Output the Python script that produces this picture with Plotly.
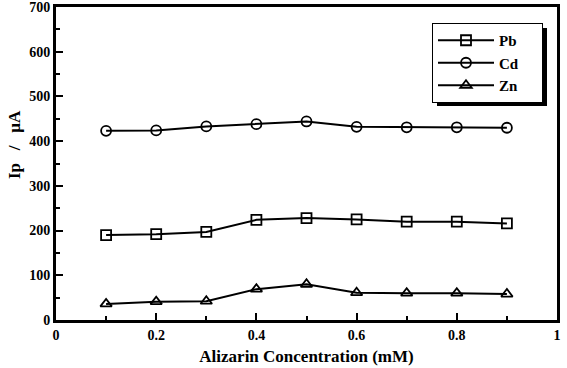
import plotly.graph_objects as go

conc = [0.1, 0.2, 0.3, 0.4, 0.5, 0.6, 0.7, 0.8, 0.9]
pb = [190, 192, 197, 224, 228, 225, 220, 220, 216]
cd = [423, 424, 433, 438, 444, 432, 431, 431, 430]
zn = [36, 41, 42, 69, 80, 61, 60, 60, 58]

series = [("Pb", pb, "square-open"), ("Cd", cd, "circle-open"), ("Zn", zn, "triangle-up-open")]

font = "Liberation Serif, Times New Roman, serif"
fig = go.Figure()
for name, ys, sym in series:
    fig.add_trace(go.Scatter(
        x=conc, y=ys, name=name + "\u00a0" * 5, mode="lines+markers",
        line=dict(color="black", width=2),
        marker=dict(symbol=sym, size=10, color="black", line=dict(width=1.8, color="black")),
    ))

L, R, T, B = 56, 10, 7, 48
W, H = 567, 368
pw, ph = W - L - R, H - T - B

def px(x):
    return (x - L) / pw

def py(y):
    return (H - B - y) / ph

fig.update_layout(
    width=W, height=H,
    margin=dict(l=L, r=R, t=T, b=B, autoexpand=False),
    paper_bgcolor="white", plot_bgcolor="white",
    font=dict(family=font, size=14, color="black"),
    showlegend=True,
    legend=dict(
        x=px(432), y=py(23), xanchor="left", yanchor="top",
        bgcolor="white", bordercolor="black", borderwidth=1,
        font=dict(family=font, size=15, color="black", weight="bold"),
        itemwidth=56, tracegroupgap=0,
    ),
    xaxis=dict(
        range=[0, 1], tickvals=[0, 0.2, 0.4, 0.6, 0.8, 1],
        ticktext=["0", "0.2", "0.4", "0.6", "0.8", "1"],
        ticks="inside", ticklen=7, tickwidth=2, tickcolor="black",
        minor=dict(ticks="inside", ticklen=4, tickwidth=2, dtick=0.1, tickcolor="black"),
        showline=True, linecolor="black", linewidth=3, mirror=True,
        showgrid=False, zeroline=False, automargin=False,
        ticklabeloverflow="allow",
        tickfont=dict(family=font, size=14, color="black", weight="bold"),
        title=dict(text="Alizarin Concentration (mM)", standoff=9,
                   font=dict(family=font, size=17, color="black", weight="bold")),
    ),
    yaxis=dict(
        range=[0, 700], dtick=100,
        ticks="inside", ticklen=7, tickwidth=2, tickcolor="black",
        minor=dict(ticks="inside", ticklen=4, tickwidth=2, dtick=50, tickcolor="black"),
        showline=True, linecolor="black", linewidth=3, mirror=True,
        showgrid=False, zeroline=False, automargin=False,
        ticklabeloverflow="allow",
        tickfont=dict(family=font, size=14, color="black", weight="bold"),
    ),
    annotations=[dict(
        text="Ip\u00a0\u00a0\u00a0/\u00a0\u00a0\u00a0μA", textangle=-90,
        xref="paper", yref="paper", x=px(15), y=py(145),
        xanchor="center", yanchor="middle", showarrow=False,
        font=dict(family=font, size=17, color="black", weight="bold"),
    )],
)

# legend drop shadow
fig.add_shape(type="rect", xref="paper", yref="paper",
              x0=px(437), x1=px(547), y0=py(106), y1=py(28),
              fillcolor="black", line=dict(width=0), layer="above")

fig.write_html("out.html")
